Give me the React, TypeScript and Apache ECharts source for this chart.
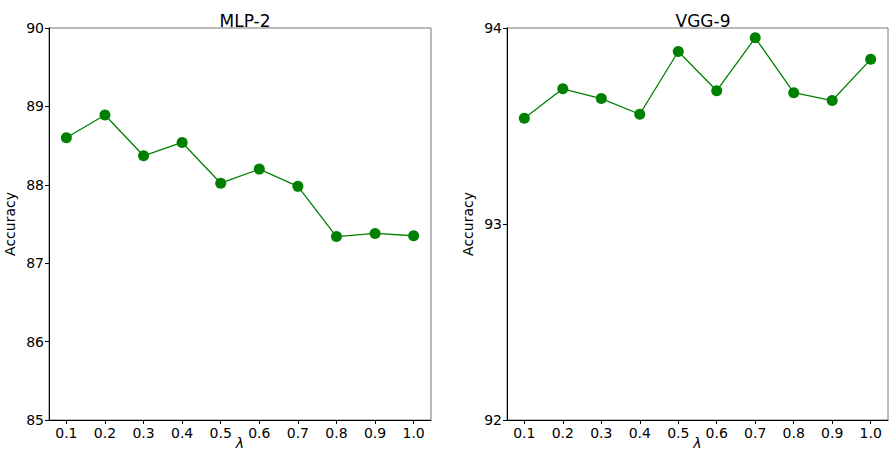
import React, { useEffect, useRef } from "react";
import * as echarts from "echarts";

const lambdas = [0.1, 0.2, 0.3, 0.4, 0.5, 0.6, 0.7, 0.8, 0.9, 1.0];
const mlpAcc = [88.6, 88.89, 88.37, 88.54, 88.02, 88.2, 87.98, 87.34, 87.38, 87.35];
const vggAcc = [93.54, 93.69, 93.64, 93.56, 93.88, 93.68, 93.95, 93.67, 93.63, 93.84];
const titles = ["MLP-2", "VGG-9"];
const yRanges = [
  { min: 85, max: 90, interval: 1 },
  { min: 92, max: 94, interval: 1 },
];

const FONT = "DejaVu Sans";

export default function App() {
  const ref = useRef<HTMLDivElement>(null);
  useEffect(() => {
    document.body.style.margin = "0";
    const chart = echarts.init(ref.current!, null, { renderer: "svg" });
    const grids = [
      { left: 49, top: 28, width: 382, height: 392 },
      { left: 507, top: 28, width: 381, height: 392 },
    ].map((g) => ({
      ...g,
      show: true,
      containLabel: false,
      outerBoundsMode: "none",
      borderColor: "#777777",
      borderWidth: 1,
      backgroundColor: "#ffffff",
    }));

    const xAxes = [0, 1].map((i) => ({
      type: "value",
      gridIndex: i,
      min: 0.055,
      max: 1.045,
      name: "λ",
      nameLocation: "middle",
      nameGap: 16,
      nameMoveOverlap: false,
      nameTextStyle: { fontFamily: FONT, fontSize: 14, lineHeight: 14, fontStyle: "italic", color: "#000" },
      axisLine: { show: true, onZero: false, lineStyle: { color: "#000", width: 1 } },
      axisTick: { show: true, length: 4, lineStyle: { color: "#000" }, customValues: lambdas },
      axisLabel: {
        show: true,
        margin: 6,
        fontFamily: FONT,
        fontSize: 14,
        color: "#000",
        customValues: lambdas,
        formatter: (v: number) => v.toFixed(1),
      },
      splitLine: { show: false },
    }));

    const yAxes = [0, 1].map((i) => ({
      type: "value",
      gridIndex: i,
      min: yRanges[i].min,
      max: yRanges[i].max,
      interval: yRanges[i].interval,
      name: "Accuracy",
      nameLocation: "middle",
      nameGap: 32,
      nameMoveOverlap: false,
      nameTextStyle: { fontFamily: FONT, fontSize: 14, color: "#000" },
      axisLine: { show: true, lineStyle: { color: "#000", width: 1 } },
      axisTick: { show: true, length: 4, lineStyle: { color: "#000" } },
      axisLabel: { margin: 5, fontFamily: FONT, fontSize: 14, color: "#000", showMinLabel: true, showMaxLabel: true },
      splitLine: { show: false },
    }));

    const mk = (vals: number[], i: number) => ({
      type: "line",
      xAxisIndex: i,
      yAxisIndex: i,
      data: lambdas.map((x, k) => [x, vals[k]]),
      symbol: "circle",
      symbolSize: 11,
      itemStyle: { color: "#008000" },
      lineStyle: { color: "#008000", width: 1.3 },
    });

    chart.setOption({
      animation: false,
      backgroundColor: "#ffffff",
      title: titles.map((t, i) => ({
        text: t,
        left: i === 0 ? 240 : 698,
        top: 7,
        textAlign: "center",
        textStyle: { fontFamily: FONT, fontSize: 17, fontWeight: "normal", color: "#000" },
      })),
      grid: grids,
      xAxis: xAxes,
      yAxis: yAxes,
      series: [mk(mlpAcc, 0), mk(vggAcc, 1)],
    });
    return () => chart.dispose();
  }, []);
  return <div ref={ref} style={{ width: 889, height: 452 }} />;
}
